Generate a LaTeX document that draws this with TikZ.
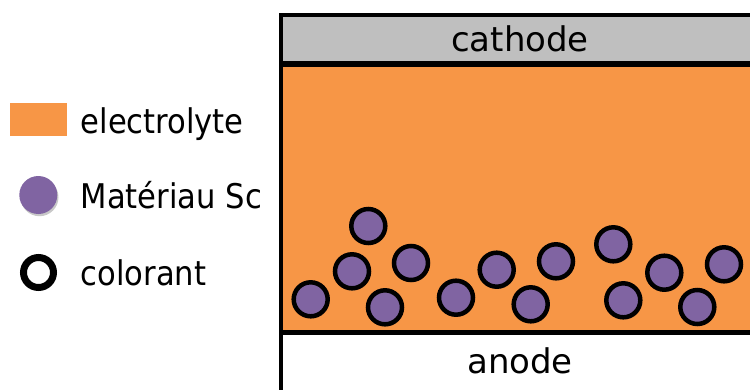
\documentclass[tikz,border=0pt]{standalone}
\usepackage{fontspec}
\setmainfont{DejaVu Sans}
\newfontfamily\legendfont{DejaVu Sans}[FakeStretch=0.9]
\usetikzlibrary{shadows}
\definecolor{elec}{HTML}{F79646}
\definecolor{scpurple}{HTML}{8064A2}
\definecolor{cathgray}{HTML}{BFBFBF}
\begin{document}
\begin{tikzpicture}[x=1pt,y=-1pt,
  lbl/.style={font=\fontsize{34}{40}\selectfont, anchor=base, inner sep=0pt},
  leg/.style={font=\legendfont\fontsize{34}{40}\selectfont, anchor=base west, inner sep=0pt},
  softshadow/.style={drop shadow={opacity=0.3, shadow xshift=1.2pt, shadow yshift=-2.2pt, fill=black!70}},
  particle/.style={circle, draw=black, line width=4.5pt, fill=scpurple, minimum size=34pt, inner sep=0pt, softshadow},
  wall/.style={draw=black, line width=4.5pt}
]
\clip (0,0) rectangle (750,389);
\fill[white] (0,0) rectangle (750,389);
% cell layers
\fill[cathgray] (281,15) rectangle (775,63.5);
\fill[elec] (281,63.5) rectangle (775,332.5);
% walls
\draw[wall] (281,400) -- (281,15) -- (775,15);
\draw[wall, line width=6pt] (281,63.5) -- (775,63.5);
\draw[wall] (281,332.5) -- (775,332.5);
% labels
\node[lbl] (cathode) at (520,51.7) {cathode};
\node[lbl] (anode) at (520,373.3) {anode};
% particles
\foreach \px/\py [count=\i] in {310.7/299.3, 368.3/226, 352/271.3, 411/263, 385/307.3, 456/297.7, 496.7/269.7, 530.7/304.3, 556/261.3, 613.3/244.3, 623.3/300.3, 664.3/272.7, 697.3/307, 724/264.3}
  \node[particle] (p\i) at (\px,\py) {};
% legend
\node[fill=elec, minimum width=57pt, minimum height=33pt, inner sep=0pt] (keyelec) at (38.4,119.2) {};
\node[leg] (telec) at (80.5,133.3) {electrolyte};
\node[circle, fill=scpurple, minimum size=38pt, inner sep=0pt, softshadow] (keysc) at (38.3,195) {};
\node[leg] (tsc) at (80.5,208.3) {Matériau Sc};
\node[circle, draw=black, line width=7pt, minimum size=30pt, inner sep=0pt, fill=white] (keycol) at (38.5,272.5) {};
\node[leg] (tcol) at (80.5,285.5) {colorant};
\end{tikzpicture}
\end{document}
